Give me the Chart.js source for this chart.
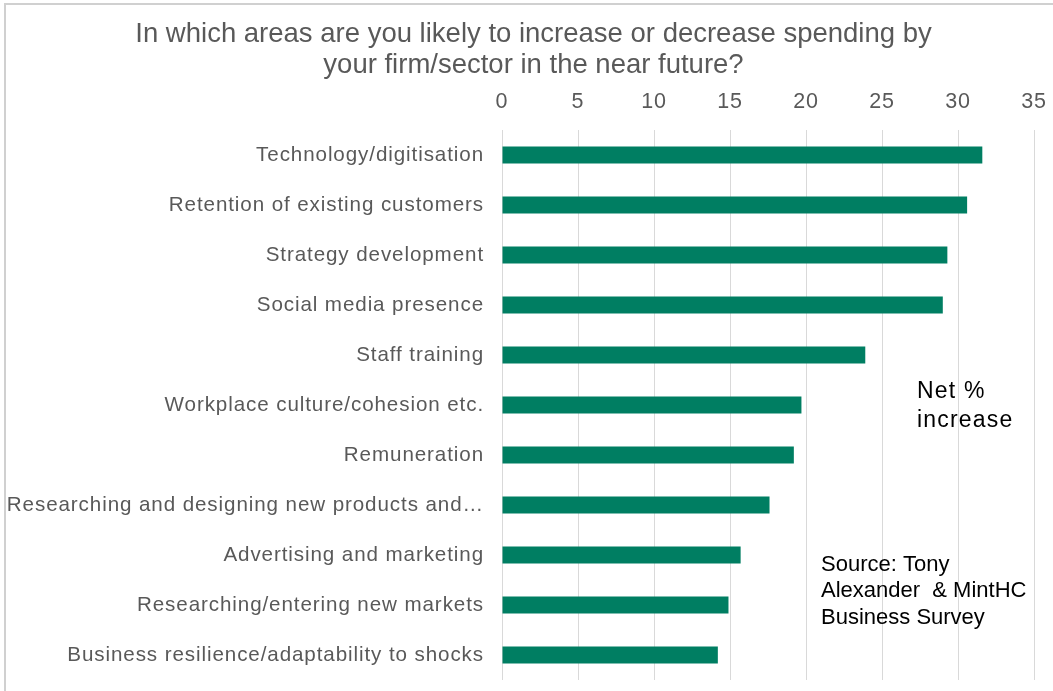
<!DOCTYPE html>
<html lang="en">
<head>
    <meta charset="UTF-8">
    <title>Spending intentions</title>
    <script src="https://cdn.jsdelivr.net/npm/chart.js"></script>
    <style>
        body { margin: 0; background: #fff; }
        #wrap { width: 1053px; height: 691px; position: relative; }
    </style>
</head>
<body>
    <div id="wrap"><canvas id="spendChart"></canvas></div>
    <script>
        // Survey areas, top to bottom
        const areas = [
            'Technology/digitisation',
            'Retention of existing customers',
            'Strategy development',
            'Social media presence',
            'Staff training',
            'Workplace culture/cohesion etc.',
            'Remuneration',
            'Researching and designing new products and\u2026',
            'Advertising and marketing',
            'Researching/entering new markets',
            'Business resilience/adaptability to shocks'
        ];
        // Net % of firms planning to increase spending
        const netIncrease = [31.6, 30.6, 29.3, 29.0, 23.9, 19.7, 19.2, 17.6, 15.7, 14.9, 14.2];
        const xTicks = [0, 5, 10, 15, 20, 25, 30, 35];

        const titleLines = [
            'In which areas are you likely to increase or decrease spending by',
            'your firm/sector in the near future?'
        ];
        const noteLines = ['Net %', 'increase'];
        const sourceLines = ['Source: Tony', 'Alexander  & MintHC', 'Business Survey'];

        const FONT = "Arial, 'Liberation Sans', sans-serif";
        const GREY = '#595959';
        const TICK_SPACING = '0.9px';

        // Wider letter spacing for the axis text, frame lines, title and text boxes
        const extras = {
            id: 'extras',
            beforeLayout(chart) {
                chart.ctx.letterSpacing = TICK_SPACING;
            },
            beforeDraw(chart) {
                const c = chart.ctx;
                c.letterSpacing = TICK_SPACING;
                c.save();
                c.strokeStyle = '#d0d0d0';
                c.lineWidth = 2;
                c.beginPath();
                c.moveTo(5, 691);
                c.lineTo(5, 4);
                c.lineTo(1053, 4);
                c.stroke();
                c.restore();
            },
            afterDraw(chart) {
                const c = chart.ctx;
                c.save();
                c.textBaseline = 'alphabetic';

                c.letterSpacing = '0px';
                c.fillStyle = GREY;
                c.textAlign = 'center';
                c.font = '27.5px ' + FONT;
                titleLines.forEach((t, i) => c.fillText(t, 533.5, 42 + i * 31));

                c.fillStyle = '#000';
                c.textAlign = 'left';
                c.letterSpacing = '1.2px';
                c.font = '23px ' + FONT;
                noteLines.forEach((t, i) => c.fillText(t, 917, 398 + i * 28.5));
                c.letterSpacing = '0px';
                c.font = '22px ' + FONT;
                sourceLines.forEach((t, i) => c.fillText(t, 821, 571 + i * 26.3));
                c.restore();
            }
        };

        const ctx = document.getElementById('spendChart').getContext('2d');
        new Chart(ctx, {
            type: 'bar',
            data: {
                labels: areas,
                datasets: [{
                    data: netIncrease,
                    backgroundColor: '#007e62',
                    borderWidth: 0,
                    barPercentage: 0.34,
                    categoryPercentage: 1
                }]
            },
            options: {
                indexAxis: 'y',
                responsive: true,
                maintainAspectRatio: false,
                animation: false,
                layout: { padding: { left: 5, right: 19, top: 89, bottom: 11 } },
                plugins: {
                    legend: { display: false },
                    tooltip: { enabled: false },
                    title: { display: false }
                },
                scales: {
                    x: {
                        position: 'top',
                        min: 0,
                        max: 35,
                        afterBuildTicks: s => { s.ticks = xTicks.map(v => ({ value: v })); },
                        afterFit: s => {
                            s.height = 41;
                            s.paddingLeft = 0;
                            s.paddingRight = 0;
                        },
                        grid: { color: '#d9d9d9', lineWidth: 1, drawTicks: false },
                        border: { display: false },
                        ticks: {
                            color: GREY,
                            padding: 15,
                            font: { family: FONT, size: 21.5 }
                        }
                    },
                    y: {
                        afterFit: s => {
                            s.width = 497;
                            s.paddingTop = 0;
                            s.paddingBottom = 0;
                        },
                        grid: { display: false, drawTicks: false },
                        border: { display: false },
                        ticks: {
                            color: GREY,
                            padding: 18,
                            autoSkip: false,
                            font: { family: FONT, size: 20.6 }
                        }
                    }
                }
            },
            plugins: [extras]
        });
    </script>
</body>
</html>
